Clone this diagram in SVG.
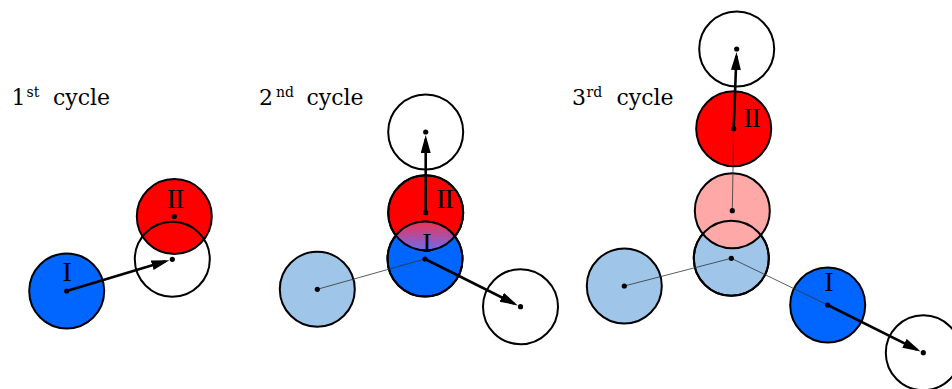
<svg xmlns="http://www.w3.org/2000/svg" width="952" height="389" viewBox="0 0 952 389">
  <defs>
    <style>
      .ring { stroke: #000; stroke-width: 2; }
      .open { fill: none; }
      .blue { fill: #0066ff; }
      .red { fill: #ff0000; }
      .pale-blue { fill: #9fc5e8; }
      .pink { fill: #ffa8a8; }
      .dot { fill: #000; }
      .trail { stroke: #333; stroke-width: 0.8; fill: none; }
      .move { stroke: #000; stroke-width: 2.6; fill: none; marker-end: url(#head); }
      .title { font-family: "DejaVu Serif", "Liberation Serif", serif; font-size: 22px; fill: #000; }
      .sup { font-size: 14px; }
      .num { font-family: "Liberation Serif", "DejaVu Serif", serif; font-size: 28px; fill: #000; text-anchor: middle; letter-spacing: -1px; }
    </style>
    <marker id="head" markerUnits="userSpaceOnUse" markerWidth="20" markerHeight="12" refX="14" refY="5" orient="auto">
      <path d="M0,0 L18,5 L0,10 Z" fill="#000"/>
    </marker>
    <clipPath id="clip-c2-I">
      <circle cx="425" cy="259" r="37.5"/>
    </clipPath>
    <linearGradient id="lens-fill" gradientUnits="userSpaceOnUse" x1="0" y1="221" x2="0" y2="251">
      <stop offset="0" stop-color="#f4304f"/>
      <stop offset="1" stop-color="#6a6cf2"/>
    </linearGradient>
  </defs>

  <!-- headings -->
  <text class="title" x="11.5" y="105">1<tspan class="sup" x="26.5" y="97">st</tspan><tspan x="53" y="105">cycle</tspan></text>
  <text class="title" x="259" y="105">2<tspan class="sup" x="276" y="97">nd</tspan><tspan x="306.5" y="105">cycle</tspan></text>
  <text class="title" x="572" y="105">3<tspan class="sup" x="586.5" y="97">rd</tspan><tspan x="616.5" y="105">cycle</tspan></text>

  <!-- cycle 1 -->
  <g id="c1-I">
    <circle class="ring blue" cx="66.7" cy="291" r="37.5"/>
    <text class="num" x="66.7" y="280.5">I</text>
  </g>
  <g id="c1-II">
    <circle class="ring red" cx="174.3" cy="216.5" r="37.5"/>
    <text class="num" x="175" y="207.5">II</text>
  </g>
  <g id="c1-target">
    <circle class="ring open" cx="172.3" cy="259.3" r="37.5"/>
  </g>

  <!-- cycle 2 -->
  <g id="c2-prev">
    <circle class="ring pale-blue" cx="317.3" cy="289.3" r="37.5"/>
  </g>
  <g id="c2-II">
    <circle class="ring red" cx="425.7" cy="212.7" r="37.5"/>
  </g>
  <g id="c2-I">
    <circle class="ring blue" cx="425" cy="259" r="37.5"/>
  </g>
  <g id="c2-overlap">
    <circle cx="425.7" cy="212.7" r="37.5" fill="url(#lens-fill)" clip-path="url(#clip-c2-I)"/>
    <circle class="ring open" cx="425.7" cy="212.7" r="37.5"/>
    <circle class="ring open" cx="425" cy="259" r="37.5"/>
    <text class="num" x="426.5" y="251.5">I</text>
    <text class="num" x="444.5" y="208">II</text>
  </g>
  <g id="c2-target-II">
    <circle class="ring open" cx="425.7" cy="132" r="37.5"/>
  </g>
  <g id="c2-target-I">
    <circle class="ring open" cx="520.5" cy="306.7" r="37.5"/>
  </g>

  <!-- cycle 3 -->
  <g id="c3-prev-1">
    <circle class="ring pale-blue" cx="624.3" cy="286" r="37.5"/>
  </g>
  <g id="c3-prev-2">
    <circle class="ring pale-blue" cx="731.3" cy="258.3" r="37.5"/>
  </g>
  <g id="c3-prev-II">
    <circle class="ring pink" cx="732.3" cy="210.7" r="37.5"/>
    <circle class="ring open" cx="731.3" cy="258.3" r="37.5"/>
  </g>
  <g id="c3-II">
    <circle class="ring red" cx="733.7" cy="128.7" r="37.5"/>
    <text class="num" x="751.5" y="127">II</text>
  </g>
  <g id="c3-target-II">
    <circle class="ring open" cx="736.7" cy="49" r="37.5"/>
  </g>
  <g id="c3-I">
    <circle class="ring blue" cx="827.7" cy="305" r="37.5"/>
    <text class="num" x="828.5" y="291">I</text>
  </g>
  <g id="c3-target-I">
    <circle class="ring open" cx="923.3" cy="352.7" r="37.5"/>
  </g>

  <!-- connectors: past paths (thin) and current moves (arrows) -->
  <g id="connectors">
    <polyline class="trail" points="317.3,289.3 425,259"/>
    <polyline class="trail" points="624.3,286 731.3,258.3 827.7,305"/>
    <polyline class="trail" points="732.3,210.7 733.7,128.7"/>

    <line class="move" x1="66.7" y1="291" x2="165.6" y2="261.3"/>
    <line class="move" x1="425" y1="259" x2="514.2" y2="303.6"/>
    <line class="move" x1="425.7" y1="212.7" x2="425.7" y2="139"/>
    <line class="move" x1="733.7" y1="128.7" x2="736.4" y2="56"/>
    <line class="move" x1="827.7" y1="305" x2="917" y2="349.6"/>
  </g>

  <!-- centre points -->
  <g id="centres" class="dot">
    <circle cx="66.7" cy="291" r="2.6"/>
    <circle cx="174.3" cy="216.5" r="2.6"/>
    <circle cx="172.3" cy="259.3" r="2.6"/>
    <circle cx="317.3" cy="289.3" r="2.6"/>
    <circle cx="425" cy="259" r="2.6"/>
    <circle cx="425.7" cy="212.7" r="2.6"/>
    <circle cx="425.7" cy="132" r="2.6"/>
    <circle cx="520.5" cy="306.7" r="2.6"/>
    <circle cx="624.3" cy="286" r="2.6"/>
    <circle cx="731.3" cy="258.3" r="2.6"/>
    <circle cx="732.3" cy="210.7" r="2.6"/>
    <circle cx="733.7" cy="128.7" r="2.6"/>
    <circle cx="736.7" cy="49" r="2.6"/>
    <circle cx="827.7" cy="305" r="2.6"/>
    <circle cx="923.3" cy="352.7" r="2.6"/>
  </g>
</svg>
